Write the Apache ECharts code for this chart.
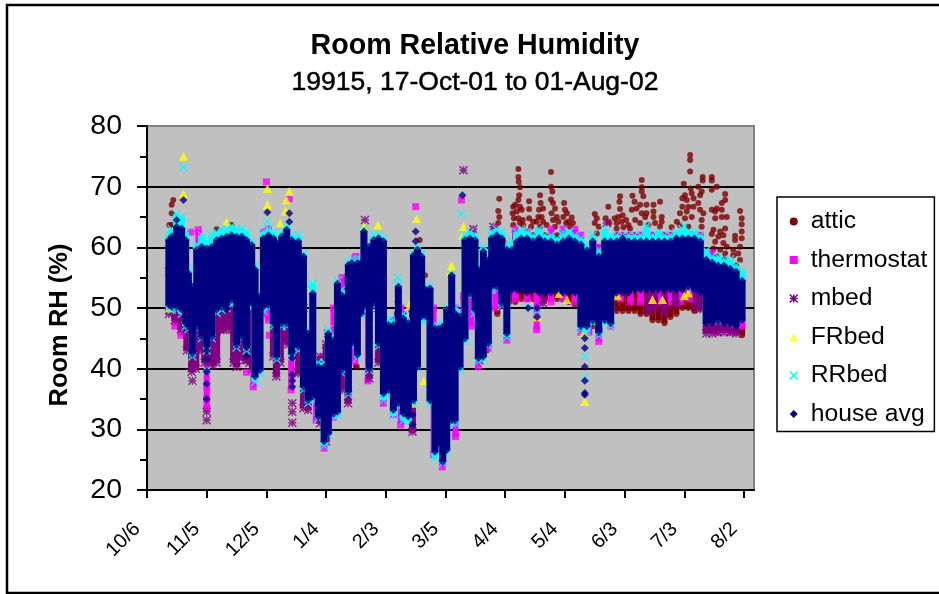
<!DOCTYPE html>
<html><head><meta charset="utf-8">
<style>html,body{margin:0;padding:0;background:#fff;overflow:hidden}#c{width:939px;height:594px}</style>
<script src="https://cdn.jsdelivr.net/npm/echarts@6/dist/echarts.min.js"></script>
</head><body><div id="c"></div>
<script>
// Day numbers count from 10/6; every reading below is estimated from the picture.
const tickLabels = ['10/6','11/5','12/5','1/4','2/3','3/5','4/4','5/4','6/3','7/3','8/2'];
const seriesNames = ['attic','thermostat','mbed','FRbed','RRbed','house avg'];
const days = [11,12.4,14.9,17.4,19.4,20.8,22.8,25,27.5,30,32.5,35,37.5,40,42.5,45,47.6,50,52.6,54.3,56.8,58.5,61,63.5,65.2,67.7,70.2,72.7,76,
78.6,81,83.3,86.1,89,91.1,93.7,95.7,97.8,101.2,102.9,105.7,107.4,109,111.7,114,116.3,118.8,121.3,123.8,126.3,128.8,131.3,133.9,135.9,138,140.2,142.2,144.7,
146.4,148.6,150.6,153.1,154.8,157.3,159.8,162.3,164.8,166.5,169,171.5,173.2,175.7,178.2,180.8,183.3,185.8,
188,191,194,197,200,203,206,209,212,215,218,221,224,227,230,233,236,239,242,245,248,251,254,257,260,263,266,269,272,275,278,281,284,287,290,293,296,299];
const avgHi = [61.2,61.8,63.4,63.1,61.2,55.7,53.5,59.6,60.1,59.8,60.1,61.2,61.5,61.8,62,61.8,61.8,61.2,60.4,56.3,51.9,61.5,62,61.5,60.7,61.8,62.9,61.2,61,
58.5,45.8,52.4,40.3,40.3,45.8,44.7,54,52.1,57.1,57.4,57.4,57.4,62.6,60.1,61.2,61.5,61,47.2,47.2,53.5,48.3,47.5,58.7,59.6,58.5,53,53.2,46.6,
46.6,46.9,49.7,55.4,49.1,48.6,61.2,61.5,61.2,56.3,59.3,57.9,61.5,62,61.5,59.6,59.6,60.9,
61.5,61.5,61,61.5,61,61,60.5,61,61.5,61,60.5,59.5,61,58.5,61,61,61,61.5,61,61,61,61,61,61,61,61,61.5,61.5,61.5,61.5,61,58,57.5,57,57,56.5,56,54.5];
const avgLo = [50.5,50.2,50.2,49.7,47.5,46.9,42.5,46.9,45.3,43.6,45.3,49.7,50.2,50.5,51.3,43.9,45.3,43.6,50.8,38.7,39.8,50.2,50.5,47.5,42,47.5,47.5,42.5,43.6,
37,34.8,35.4,32.1,28,29.3,32.6,32.9,39.8,36.2,44.2,42.3,49.1,50.2,40,50.8,44.2,35.9,36.5,33.2,34.3,32.6,32.1,34.8,40.3,48.6,48.6,34.8,26.3,
27.7,24.7,26.6,31.5,31.5,40.3,45,52.4,49.7,41.7,42,44.2,53.5,53.5,50.8,45.8,53,53,
53,52.5,53,52.5,52.5,52.5,53,52.5,52.5,52.5,47,47,48,46,48,47.5,52.5,52.5,52.5,53,53,53,53,53,53,53,53,53,53.5,53,52.5,47.5,47.5,48,47.5,47.5,47,48];
const rrHi = [62,63,65.5,65,62.5,56.5,54,60.5,62,61,62,62.5,63,63,63.5,63,63,62.5,61,57,52.5,62.5,63,62.5,61.5,62.5,63.5,62,62,
59,46.5,54,41,41,46.5,45.5,54.5,53,57.5,58,58,58,63,60.5,62,62,61.5,48,48,54,49,48,59,60,59,53.5,53.5,47,
47,47.5,50,55.5,50,49,62,62.5,62,57,60,58.5,62.5,63,62.5,60.5,61,62.5,
63,62.5,62,63,62,62,61.5,62,62.5,62,61.5,60.5,62,59.5,63,62,62,62,62,62,62,63,62,62.5,62,62,62.5,63,62.5,62.5,62,59.5,58.5,58.5,58,58,57,56];
const rrLo = [50,49.7,49.7,49,47,46.5,42,46.5,45,43,45,49.2,49.7,50,50.5,43.5,45,43,50,37.8,39.3,49.5,50,47,41.5,47,47,42,43,
36.5,34.3,34.8,31.8,27.3,29,32.2,32.3,39.3,35.8,43.7,41.8,48.6,49.7,39.7,50.3,43.7,34.8,35.5,32.2,33.7,31.4,31.3,34.3,40,48,48,34.3,25.3,
27,24.4,26.2,31,31,39.8,44.5,52,49.2,41.2,41.7,43.8,53,53,50.3,45.2,53.5,53.5,
53.5,53.5,53.5,53.5,53.5,53.5,53.5,53.5,53.5,53.5,46.5,46,47.5,45.5,47.5,47,53.5,53.5,53.5,53.5,53.5,53.5,53.5,53.5,53.5,53.5,53.5,53.5,53.5,53.5,53.5,48,48,48,48,48,47.5,48.5];
const thDays = [11,14,17,20,25.8,30,36,53.4,58.5,61,72.4,85,89,93.7,98,104.5,111,118.8,123.8,127.5,133.3,144,148.4,155,159,163,166.5,171.5,175,180.8,185,191,195.8,197,203,209,215,218,222,227,233,238,243,248,253,258,263,268,273,278,281,284,287,290,293,296,299];
const thHi = [56,58,58,55,62.9,50,60,50,62.5,63,50,40,42,50,55,58.2,50,50,48,50,50,50,47,50,52,62.3,55,55,63,55,63,62.5,52,62.5,63,63,63,62,60,60,61,62,62,62,62,62,62,62,62,62,59,59,57,57,56,56,54];
const thLo = [49.5,47,45.5,47,47,33.5,50,37,49,48,36.5,31.5,26.9,32,38,41.2,38,34.3,32.4,30.7,29.9,25.8,23.8,28.8,45,47,40.3,43.4,50,44.7,51.5,51.5,46.4,51,51,51.5,51,46,46,44.5,47,51.5,51,51,51,51,51,51,51.5,51,46.5,46.5,46,46.5,46,46,47];
const mbDays = [11,14,17,20,22.4,24.5,26.6,29,31,33,35,37,38.4,41,42.5,43.5,45,47,49,50,51.5,53,63.5,65,67,69.3,71,76,78.6,81,87,90,98,101,111.7,116.3,133.4,167,199,252,255,260,265.6,276,278,281,284,287,290,293,296];
const mbHi = [56,58,58,54,52,52,55,55,55,55,55,55,55,58,55,55,55,55,55,55,55,50,55,55,55,55,55,55,50,45,42,44,50,55,50,50,50,52,56,56,56,56,56,56,56,54,54,54,54,54,54];
const mbLo = [49,48,46.5,43,39.5,40,43,41,41,40.5,41,46.4,46.4,47,46.4,41,40.3,42,41.4,41.4,41,40,42,38.7,41,44.5,44,39.2,33.5,33.2,31,28,36.5,34.3,38.4,41,29.6,41.4,50.8,49.4,50,49.2,50.5,50,49.8,45.8,45.8,46,46,46,45.8];
const atticDays = [176,179,182,185,188,191,194,197,200,203,206,209,212,215,218,221,224,227,230,233,236,239,242,245,248,251,254,257,260,263,266,269,272,275,278,281,284,287,290,293,296,299];
const atticHi = [62,61,60,62,62,62,62,62,62,62,62,62,62,62,61,58,58,60,61,60,62,62,62,62,62,62,62,62,62,62,62,62,62,62,62,59,59,58,58,57,57,55];
const atticLo = [49,50.5,51,51,51.5,51.5,51.5,51.5,51.5,51.5,51.5,51.5,51,50.5,47,48,47,45,48,48,49.5,49.5,49.5,49.5,49,49,48,48,47.5,48.5,49,50,50,49.5,50,47,47,46.5,47,46.5,46,45.5];
const atticPts = [[13.2,67.8],[12.4,67],[12.4,65.6],[11.2,63.7],[12.4,63.7],[42.5,63.7],[35,63],[125.5,49.1],[105.4,40.3],[105,40.5],[58.5,50.2],[137,61.2],[139.7,55.4],[162.3,51],[162.3,50],[170.7,43],[108,49],[116,50],[116,48],[116,46],[129,49],[129,47],[129,45],
[177,68],[176.5,66],[177,65],[176.5,64],[186.6,72.9],[186.6,71.6],[186.8,70.8],[187.4,69.9],[187,68.6],[186.6,67.8],[185,67],[184,66.7],[187.4,66.7],[183.7,65.6],[185.8,65.9],[188.3,66.2],[184.4,64.8],[186.6,64.8],[188.8,64.5],[184,63.7],[187.4,64],[189,63.7],
[192,67.6],[192,66.3],[192,64.8],[194,64.2],[193,63.4],[197.5,68.6],[197.8,67.3],[197,66.2],[199,66.4],[196.6,65],[198.3,65],[195.8,64.2],[199,64.2],[197.5,63.4],[200.8,63.7],
[203,72.4],[203,70],[203.7,69.2],[203,67.9],[204,67.3],[205,66.4],[203.3,65.6],[205.9,65],[204,64.5],[206.7,64.2],[205,63.4],[209.6,67.3],[210,66.2],[211,65.6],[209.2,65],[210.6,64],[213.4,64.9],[211.7,64.2],[214,64],[212.6,63.4],
[225,65.5],[226,64.8],[225,64],[227,63.4],[226,62.3],[231.8,66.7],[230.5,64.8],[232.3,64],[237.7,68.4],[237.4,67.5],[237.7,66.3],[235,64.8],[236.8,65],[239,65.3],[236,64],[238.5,64.2],[240.7,64.5],[236,63.1],[239.4,63.3],[241.9,63.7],[242.7,63.1],
[243.9,68.5],[245,67.5],[243.6,66.2],[246,66.4],[248.6,71.1],[248.6,69.9],[248.6,69.2],[249.4,68.4],[247.8,67],[251,67],[254.5,67],[257.8,67.5],[248.6,65.6],[251,65.6],[254.5,65.9],[250.3,65],[254.5,65],[258.6,65],[245.3,64.5],[247.8,64],[252,63.7],[255.3,64],[258.6,64.2],[257.8,63.4],
[272.9,75.2],[272.9,74.4],[272.9,72.5],[269.7,70.5],[273.2,69.7],[277,70],[279.2,71.6],[279.2,71],[270.3,68.6],[273.7,68.9],[278.7,69.2],[283.8,71.6],[283.8,71],[286.3,70],[283.8,69.5],[269,68.1],[271.2,67.8],[274.6,68.1],[277.9,68.6],[290.5,68.8],[290.5,67.8],[277,67.3],[269,66.7],[272,66.7],[274.6,66.7],[288.8,67.3],[286.3,66.4],[267.8,65.6],[271.2,65.9],[277.9,66.2],[279.6,65.6],[283.8,66.2],[285.5,65.9],[288.8,66.2],[298,66],[270.3,64.8],[273.7,65],[266.2,64.2],[278.7,64.5],[298.8,64.8],[298.8,63.8],[285.5,64.8],[288.8,65],[291.3,65],[267.8,63.7],[272,63.4],[263.6,63.3],[278.7,63.4],[284.6,62.9],[288,62.6],[290.5,63.1],[298.8,62.6],[295.5,61.9],[283.8,62.2],[287.1,61.8],[289.6,62],[298.8,61.5],[295.5,61.2],[285.5,60.9],[289.6,60.7],[291.3,60.1],[298,60.1],[294.6,59.6],[297.1,59],[284.6,59.8],[288,59.6],[290.5,59],[294.6,58.7],[298,57.9],[286.3,58.5]];
const thPts = [[60,70.8],[135,66.7],[71.5,68],[39.7,47.7],[61.5,45.5],[50,39.4],[105,58.5],[46,62],[22,62.5],[158,67.8],[283,58.7],[30,37],[30,35]];
const mbPts = [[22.8,38],[30,32.9],[30,31.5],[73,34.3],[73,32.9],[73,31.1],[39.7,46.5],[35,46.2],[109.5,64.5],[159,72.7],[164,63],[174,63.4],[231,64],[91,45.8]];
const frPts = [[18.3,75],[18.3,68.8],[11,50],[60.5,69.7],[60.5,67],[71.5,69.2],[70,67.8],[69.5,66],[67,64],[40,64.2],[109,63.4],[116,63.7],[135.5,64.7],[139,38],[133.5,34.3],[132,50.5],[159,63.4],[158.5,62],[153,57],[152.5,56],[220,34.6],[219.5,46],[227,48],[236.4,52],[211,51.4],[254,51.4],[259,51.4],[270,52],[272,52.5],[207,52.4],[196,48.5],[230,49.5],[83,53.8]];
const rrPts = [[18.3,73.2],[60.5,64.2],[83,54],[158,65.5],[30,39.7],[126,55],[20,60],[148,27],[220,38.5],[220,42],[197,62.5],[209,62.5],[212,62.5],[251,63.5],[270,63.5],[283,57],[192,50],[196,49.5],[106,43]];
const avgPts = [[18.3,67.8],[14.9,64.5],[60.5,65.8],[71.5,65.6],[71.5,64.2],[135,62.6],[135,61],[30,43],[30,41.5],[30,39.5],[30,37.5],[30,35],[73,41.7],[73,39],[73,38],[73,37],[126.3,52.7],[126.3,51],[126.3,48.8],[158.5,68.6],[220,45],[220,43.4],[220,40.3],[220,38],[220,36],[220,35.7],[227,46.6],[191.5,50],[196,50],[196,48.5],[133.4,32.4],[133.4,30.8],[39.7,49.8],[50,42],[50,43.5],[40,50]];

const markerColors = ['#800000','#ff00ff','#800080','#ffff00','#00ffff','#000080'];
const markerSizes = [6,7,8,9,8,8];
const columnWidths = [6,6,7,0,7,7];
const starPath = 'path://M0,0L10,10M10,0L0,10M5,0L5,10M0,5L10,5';
const crossPath = 'path://M0,0L10,10M10,0L0,10';
const symbols = ['circle','rect',starPath,'triangle',crossPath,'diamond'];
const isStroke = [false,false,true,false,true,false];
const ranges = [
  {x:atticDays, hi:atticHi, lo:atticLo, pts:atticPts},
  {x:thDays, hi:thHi, lo:thLo, pts:thPts},
  {x:mbDays, hi:mbHi, lo:mbLo, pts:mbPts},
  {x:[], hi:[], lo:[], pts:frPts},
  {x:days, hi:rrHi, lo:rrLo, pts:rrPts},
  {x:days, hi:avgHi, lo:avgLo, pts:avgPts}
];
function markStyle(i){
  return isStroke[i]
    ? {color:'transparent', borderColor:markerColors[i], borderWidth:1.5}
    : {color:markerColors[i], borderWidth:0};
}
const series = [];
seriesNames.forEach((name,i)=>{
  const r = ranges[i];
  const rows = r.x.map((d,k)=>[d,r.lo[k],r.hi[k]]);
  if(rows.length) series.push({
    type:'custom', name, silent:true, coordinateSystem:'cartesian2d', animation:false, z:2+i,
    data:rows, encode:{x:0,y:[1,2]},
    renderItem:(p,api)=>{
      const a = api.coord([api.value(0),api.value(1)]);
      const b = api.coord([api.value(0),api.value(2)]);
      const w = columnWidths[i];
      return {type:'rect', shape:{x:a[0]-w/2,y:b[1],width:w,height:a[1]-b[1]}, style:{fill:markerColors[i]}};
    }
  });
  const pts = r.pts.slice();
  rows.forEach(q=>{pts.push([q[0],q[1]]);pts.push([q[0],q[2]]);});
  series.push({
    type:'scatter', name, symbol:symbols[i], symbolSize:markerSizes[i], data:pts,
    itemStyle:markStyle(i), silent:true, animation:false, z:2+i
  });
});

const chart = echarts.init(document.getElementById('c'),null,{renderer:'canvas'});
const F = '"Liberation Sans", Arial, sans-serif';
chart.setOption({
  animation:false,
  backgroundColor:'#fff',
  title:[
    {text:'Room Relative Humidity', left:470, top:27, textAlign:'center', textStyle:{fontFamily:F,fontSize:28.6,fontWeight:'bold',color:'#000'}},
    {text:'19915, 17-Oct-01 to 01-Aug-02', left:470, top:64, textAlign:'center', textStyle:{fontFamily:F,fontSize:26.5,fontWeight:'normal',color:'#000',textBorderColor:'#000',textBorderWidth:0.5}}
  ],
  grid:{left:147,top:126,width:607,height:364,show:true,backgroundColor:'#c0c0c0',borderColor:'#808080',borderWidth:2},
  xAxis:{type:'value',min:0,max:305,interval:30,
    axisLine:{show:true,onZero:false,lineStyle:{color:'#000',width:2}},
    axisTick:{show:true,length:8,lineStyle:{color:'#000',width:2}},
    splitLine:{show:false},
    axisLabel:{rotate:45,fontFamily:F,fontSize:20,color:'#000',margin:26,padding:[0,14,0,0],showMaxLabel:false,
      formatter:v=>tickLabels[v/30]||''}},
  yAxis:{type:'value',min:20,max:80,interval:10,
    axisLine:{show:true,lineStyle:{color:'#000',width:2}},
    axisTick:{show:true,length:10,lineStyle:{color:'#000',width:2}},
    minorTick:{show:true,splitNumber:2,length:7,lineStyle:{color:'#000',width:2}},
    splitLine:{show:true,showMinLine:false,showMaxLine:false,lineStyle:{color:'#000',width:2}},
    axisLabel:{fontFamily:F,fontSize:28.5,color:'#000',margin:25}},
  legend:{
    show:true, orient:'vertical', left:777, top:197,
    padding:[12,7,5,12], backgroundColor:'#fff', borderColor:'#000', borderWidth:1.5,
    itemWidth:8, itemHeight:8, itemGap:13.5, selectedMode:false,
    textStyle:{fontFamily:F,fontSize:24.7,color:'#000',lineHeight:24,padding:[0,0,0,8]},
    data:seriesNames.map((n,i)=>({name:n,icon:symbols[i],itemStyle:markStyle(i)}))
  },
  graphic:[
    {type:'rect',silent:true,z:-1,shape:{x:7,y:5,width:945,height:588},style:{fill:'none',stroke:'#000',lineWidth:2.5}},
    {type:'text',silent:true,x:60,y:325,rotation:Math.PI/2,style:{text:'Room RH (%)',font:'bold 25.5px '+F,fill:'#000',textAlign:'center',textVerticalAlign:'middle'}}
  ],
  series
});
</script></body></html>
